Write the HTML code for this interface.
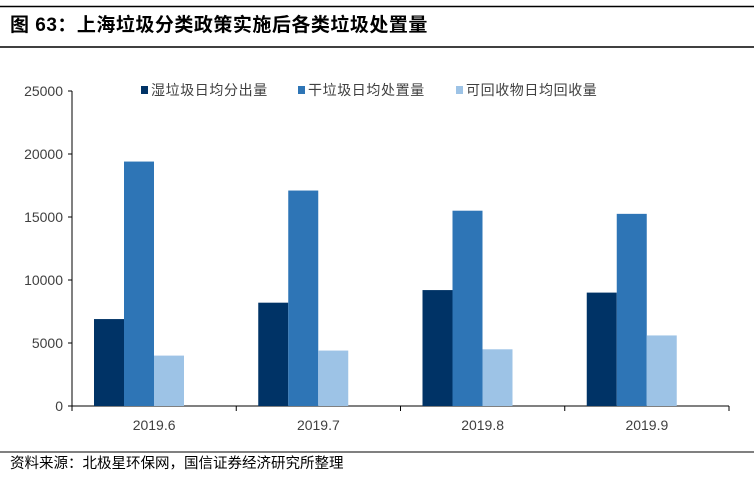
<!DOCTYPE html>
<html><head><meta charset="utf-8"><style>
body{margin:0;background:#fff;width:754px;height:475px;overflow:hidden;font-family:"Liberation Sans","Noto Sans CJK SC",sans-serif}
</style></head><body>
<svg width="754" height="475" xmlns="http://www.w3.org/2000/svg">
<line x1="0" y1="6.5" x2="754" y2="6.5" stroke="#000" stroke-width="1.5"/>
<text x="10" y="31" font-size="19" font-weight="bold" letter-spacing="0.5" font-family="Liberation Sans,Noto Sans CJK SC,sans-serif">图 63：上海垃圾分类政策实施后各类垃圾处置量</text>
<line x1="0" y1="47" x2="754" y2="47" stroke="#000" stroke-width="1.5"/>
<g id="axes"></g>
<g id="bars"></g>
<g id="legend"></g>
<line x1="0" y1="452" x2="754" y2="452" stroke="#000" stroke-width="1"/>
<text x="10" y="468" font-size="14.5" fill="#000">资料来源：北极星环保网，国信证券经济研究所整理</text>
</svg>
<script>
const categories=["2019.6","2019.7","2019.8","2019.9"];
const seriesNames=["湿垃圾日均分出量","干垃圾日均处置量","可回收物日均回收量"];
const wetValues=[6900,8200,9200,9000];
const dryValues=[19400,17100,15500,15250];
const recycValues=[4000,4400,4500,5600];
const yTicks=[0,5000,10000,15000,20000,25000];
const colors=["#003366","#2e75b6","#9dc3e6"];
const NS="http://www.w3.org/2000/svg";
const x0=72,x1=729,y0=406,yTop=91,yMax=25000;
const yS=v=>y0-(v/yMax)*(y0-yTop);
const band=(x1-x0)/categories.length;
const bw=30;
function mk(t,a,p){const e=document.createElementNS(NS,t);for(const k in a)e.setAttribute(k,a[k]);p.appendChild(e);return e;}
const axes=document.getElementById('axes');
let ya=mk('line',{x1:x0,y1:yTop,x2:x0,y2:y0,stroke:'#000'},axes);


yTicks.forEach(v=>{
 let tk=mk('line',{x1:x0-4,x2:x0,y1:yS(v),y2:yS(v),stroke:'#000'},axes);
 
 
 let t=mk('text',{x:x0-9,y:yS(v)+5,'text-anchor':'end','font-size':14,fill:'#404040'},axes);
 t.textContent=v;
 
 
});
const series=[wetValues,dryValues,recycValues];
const bars=document.getElementById('bars');
categories.forEach((c,i)=>{
 const gx=x0+band*i+22;
 series.forEach((s,j)=>{
  let r=mk('rect',{x:gx+j*bw,y:yS(s[i]),width:bw,height:y0-yS(s[i]),fill:colors[j]},bars);
  
  
 });
 let t=mk('text',{x:x0+band*(i+0.5),y:430,'text-anchor':'middle','font-size':14,fill:'#404040'},axes);
 t.textContent=c;
 
 
});
let xa=mk('line',{x1:x0,y1:y0,x2:x1,y2:y0,stroke:'#000'},axes);


for(let i=0;i<=categories.length;i++){
 let tk=mk('line',{x1:x0+band*i,x2:x0+band*i,y1:y0,y2:y0+5,stroke:'#000'},axes);
 
 
}
const lg=document.getElementById('legend');
const lx=[141,298,456];
seriesNames.forEach((n,j)=>{
 let r=mk('rect',{x:lx[j],y:86,width:7,height:8,fill:colors[j]},lg);
 
 
 let t=mk('text',{x:lx[j]+10,y:95,'font-size':14,'letter-spacing':0.6,fill:'#404040'},lg);
 t.textContent=n;
 
 
});
</script>
</body></html>
